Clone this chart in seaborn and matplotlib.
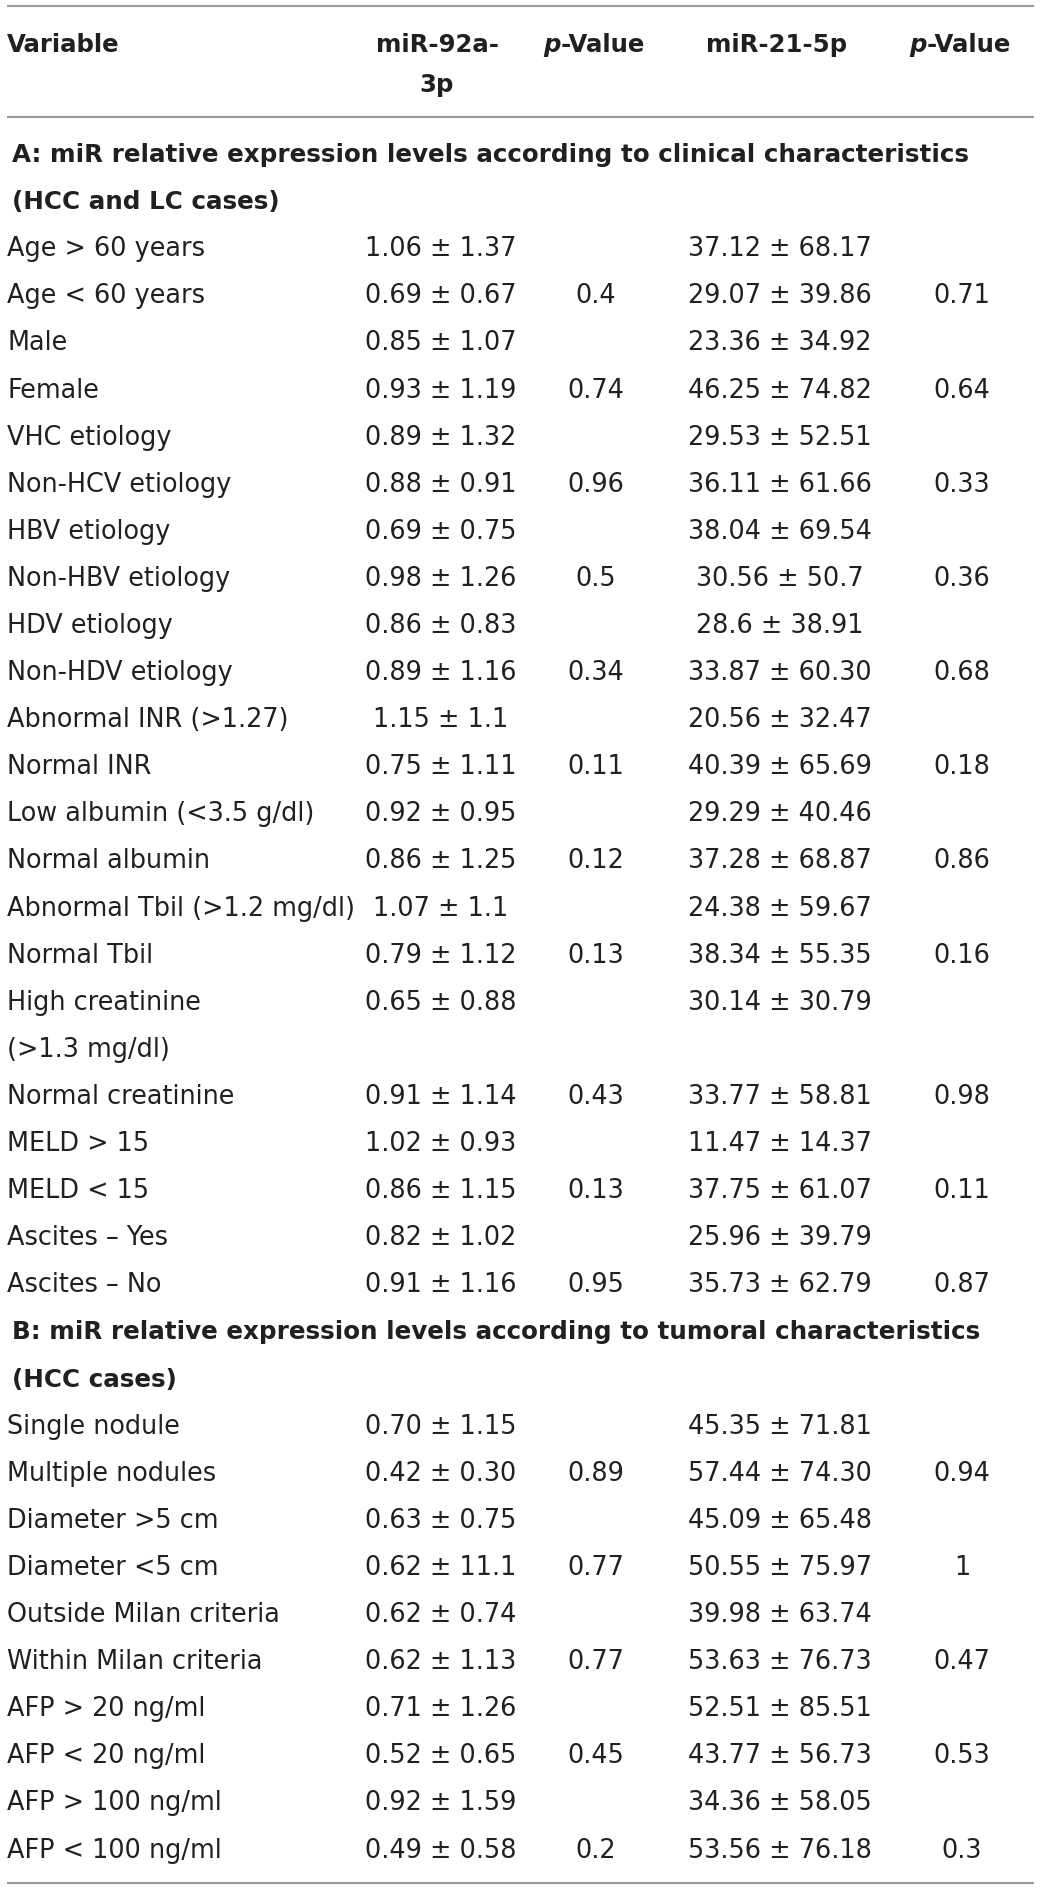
import matplotlib
matplotlib.use("Agg")
import matplotlib.pyplot as plt
import seaborn as sns
import pandas as pd

sns.set_theme(style="white")
plt.rcParams['font.family'] = ['DejaVu Sans']

# ---------------- data ----------------
col_headers = ["Variable", "miR-92a-\n3p", "p-Value", "miR-21-5p", "p-Value"]

section_a = "A: miR relative expression levels according to clinical characteristics\n(HCC and LC cases)"
vars_a = ["Age > 60 years", "Age < 60 years", "Male", "Female", "VHC etiology",
          "Non-HCV etiology", "HBV etiology", "Non-HBV etiology", "HDV etiology",
          "Non-HDV etiology", "Abnormal INR (>1.27)", "Normal INR",
          "Low albumin (<3.5 g/dl)", "Normal albumin", "Abnormal Tbil (>1.2 mg/dl)",
          "Normal Tbil", "High creatinine\n(>1.3 mg/dl)", "Normal creatinine",
          "MELD > 15", "MELD < 15", "Ascites – Yes", "Ascites – No"]
mir92_a = ["1.06 ± 1.37", "0.69 ± 0.67", "0.85 ± 1.07", "0.93 ± 1.19", "0.89 ± 1.32",
           "0.88 ± 0.91", "0.69 ± 0.75", "0.98 ± 1.26", "0.86 ± 0.83", "0.89 ± 1.16",
           "1.15 ± 1.1", "0.75 ± 1.11", "0.92 ± 0.95", "0.86 ± 1.25", "1.07 ± 1.1",
           "0.79 ± 1.12", "0.65 ± 0.88", "0.91 ± 1.14", "1.02 ± 0.93", "0.86 ± 1.15",
           "0.82 ± 1.02", "0.91 ± 1.16"]
p92_a = ["", "0.4", "", "0.74", "", "0.96", "", "0.5", "", "0.34", "", "0.11",
         "", "0.12", "", "0.13", "", "0.43", "", "0.13", "", "0.95"]
mir21_a = ["37.12 ± 68.17", "29.07 ± 39.86", "23.36 ± 34.92", "46.25 ± 74.82",
           "29.53 ± 52.51", "36.11 ± 61.66", "38.04 ± 69.54", "30.56 ± 50.7",
           "28.6 ± 38.91", "33.87 ± 60.30", "20.56 ± 32.47", "40.39 ± 65.69",
           "29.29 ± 40.46", "37.28 ± 68.87", "24.38 ± 59.67", "38.34 ± 55.35",
           "30.14 ± 30.79", "33.77 ± 58.81", "11.47 ± 14.37", "37.75 ± 61.07",
           "25.96 ± 39.79", "35.73 ± 62.79"]
p21_a = ["", "0.71", "", "0.64", "", "0.33", "", "0.36", "", "0.68", "", "0.18",
         "", "0.86", "", "0.16", "", "0.98", "", "0.11", "", "0.87"]

section_b = "B: miR relative expression levels according to tumoral characteristics\n(HCC cases)"
vars_b = ["Single nodule", "Multiple nodules", "Diameter >5 cm", "Diameter <5 cm",
          "Outside Milan criteria", "Within Milan criteria", "AFP > 20 ng/ml",
          "AFP < 20 ng/ml", "AFP > 100 ng/ml", "AFP < 100 ng/ml"]
mir92_b = ["0.70 ± 1.15", "0.42 ± 0.30", "0.63 ± 0.75", "0.62 ± 11.1", "0.62 ± 0.74",
           "0.62 ± 1.13", "0.71 ± 1.26", "0.52 ± 0.65", "0.92 ± 1.59", "0.49 ± 0.58"]
p92_b = ["", "0.89", "", "0.77", "", "0.77", "", "0.45", "", "0.2"]
mir21_b = ["45.35 ± 71.81", "57.44 ± 74.30", "45.09 ± 65.48", "50.55 ± 75.97",
           "39.98 ± 63.74", "53.63 ± 76.73", "52.51 ± 85.51", "43.77 ± 56.73",
           "34.36 ± 58.05", "53.56 ± 76.18"]
p21_b = ["", "0.94", "", "1", "", "0.47", "", "0.53", "", "0.3"]

df = pd.DataFrame({
    "section": ["A"] * len(vars_a) + ["B"] * len(vars_b),
    "variable": vars_a + vars_b,
    "mir92": mir92_a + mir92_b,
    "p92": p92_a + p92_b,
    "mir21": mir21_a + mir21_b,
    "p21": p21_a + p21_b,
})
sections = {"A": section_a, "B": section_b}

# ---------------- layout ----------------
W, H = 1040, 1889
fig = plt.figure(figsize=(W / 100, H / 100), dpi=100)
ax = fig.add_axes([0, 0, 1, 1])
ax.set_xlim(0, W)
ax.set_ylim(H, 0)
ax.axis("off")

TXT = "#231f20"
RULE = "#9a9a9a"
FS = 18.4     # pt, regular
FSB = 17.6    # pt, bold header
FSS = 17.75   # pt, bold section headings

x_left = 7
x_cols = [441, 596, 780, 962]
hdr_cols = [437, 594, 777, 960]

# rules
for yr in (6, 116.5, 1883):
    ax.plot([7, 1034], [yr, yr], color=RULE, lw=1.5, solid_capstyle="butt")

# header
hdr_base = 52
hdr_pitch = 40
ax.text(x_left, hdr_base, col_headers[0], ha="left", va="baseline",
        fontsize=FSB, fontweight="bold", color=TXT)
for i, line in enumerate(col_headers[1].split("\n")):
    ax.text(hdr_cols[0], hdr_base + i * hdr_pitch, line, ha="center", va="baseline",
            fontsize=FSB, fontweight="bold", color=TXT)
ax.text(hdr_cols[2], hdr_base, col_headers[3], ha="center", va="baseline",
        fontsize=FSB, fontweight="bold", color=TXT)

renderer = fig.canvas.get_renderer()
for cx in (hdr_cols[1], hdr_cols[3]):
    t1 = ax.text(0, hdr_base, "p", ha="left", va="baseline", fontsize=FSB,
                 fontweight="bold", fontstyle="italic", color=TXT)
    t2 = ax.text(0, hdr_base, "-Value", ha="left", va="baseline", fontsize=FSB,
                 fontweight="bold", color=TXT)
    w1 = t1.get_window_extent(renderer).width
    w2 = t2.get_window_extent(renderer).width
    x0 = cx - (w1 + w2) / 2
    t1.set_x(x0)
    t2.set_x(x0 + w1)

# body
base0 = 162
pitch = 47.1
k = 0
for sec in ["A", "B"]:
    for line in sections[sec].split("\n"):
        ax.text(x_left + 5, base0 + k * pitch, line, ha="left", va="baseline",
                fontsize=FSS, fontweight="bold", color=TXT)
        k += 1
    sub = df[df["section"] == sec]
    for _, r in sub.iterrows():
        y = base0 + k * pitch
        lines = r["variable"].split("\n")
        for j, ln in enumerate(lines):
            ax.text(x_left, y + j * pitch, ln, ha="left", va="baseline",
                    fontsize=FS, color=TXT)
        for cx, key in zip(x_cols, ["mir92", "p92", "mir21", "p21"]):
            if r[key]:
                ax.text(cx, y, r[key], ha="center", va="baseline",
                        fontsize=FS, color=TXT)
        k += len(lines)

fig.savefig("out.png", dpi=100, facecolor="white")
